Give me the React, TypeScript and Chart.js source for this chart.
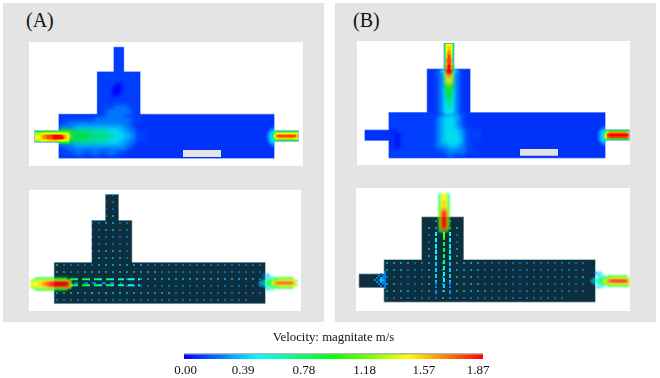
import React, { useEffect, useRef } from "react";
import { Chart, registerables } from "chart.js";
Chart.register(...registerables);

// ---------- data: velocity levels, hex digit d = d/15 of the maximum, "." = no reading ----------
const V_MAX = 1.87;
const TICK_LABELS = ["0.00", "0.39", "0.78", "1.18", "1.57", "1.87"];
const TICK_VALUES = [0.01, 0.37, 0.75, 1.13, 1.5, 1.84];

const A_FIELD = [
  ".............1111", ".............1111", ".............1111", ".............1111", ".............1111", ".............1111",
  ".........111111111111", ".........111111111111", ".........111111111111", ".........111110011111", ".........111100011111",
  ".........111100011111", ".........111100111111", ".........111111111111", ".........111111111111", ".........111112221111", ".........111222222111",
  "11111111111122221111", "111111111222222222111", "1122222222222222211", "2222333333333333221",
  "8886666655554443322111", "bba7777666665544332111", "8886666655554443322111", "2222333333333333221",
  "1122222222222222211", "1111221122112211", "1111111111111111",
];
const A_INLET = ["77778888888888887", "aaabbbbbbbbbbbbba", "bbbcddeeeffffedcb", "bbbcddeeefffffdcb", "aaabbbbcccccbbbba", "66667777777777776"];
const A_FLARE = ["...1", "..12", "..23", ".234", "1234", "1244", "1234", ".234", "..23", "..12", "...1"];
const A_OUTLET = ["567777777777", "9bbbbbbbbbbb", "bdeeeeeeeeec", "9bccccccccbb", "567777777777"];

const B_FIELD = [
  ".", ".", ".", ".", ".", ".", ".", ".", ".", ".", ".", ".", ".", ".", ".", ".", ".",
  "11111111111112333211", "1111111111112344321", "1111111111112344321", "11111111111123443211",
  ".0111111111123444321111", "..011111111123444321111", "..011111111123444421111", "..0111111111233443211",
  "..0111111111222332211", "1.11111111111122222111", "1111111111111112111",
];
const B_CHIMNEY = ["6bbb6", "6bbb6", "6bcb6", "6bcb6", "5bdb5", "5cdc5", "5cec5", "5cec5", "5ded5", "5ded5", "5cec5", "6dfd6", "6dfd6"];
const B_JET = [
  "11234dffd43211", "11234cffc43211", "11223bddb32211", "11223bccb32211", "11223abba32211", "11223abba32211", "11223abba32211",
  "11223899832211", "11223799732211", "11223588532211", "11223588532211", "11223588532211", "11223577532211", "11223577532211",
  "11223466432211", "11223466432211", "11223456432211", "11223455432211", "11223445432211", "11223444432211", "11223444432211", "11223444432211",
];
const B_OUTLET = ["567777777777", "9cdddddddddc", "befffffffffe", "bdeeeeeeeeed", "567777777777"];

const C_DOTS = [
  ".......22", ".......22", ".......22", ".......33",
  ".....223322", ".....223322", ".....222222", ".....222222", ".....233332", ".....233332",
  "3222223333333222222222222222222", "3322333333333332222222222222223", "..........33333333333333333332",
  "..........22222222222222222222", "3333343434333333322222222222223", "2222222222222222222222222222",
];
const C_DASHES = ["7766..7766..6655..6655..555..444..4", ".", "..22...22..22...22..22...2", "7766..7766..6655..6655..555..444..4"];
const C_INLET = ["..6677777777777777..", "99aabbbbbbbbbbbbbbb9", "bbbbccddeeffffffffeb", "bbbbccddeeffffffffeb", "99aabbbbcccccccccccb", "..6677777777777777.."];
const C_OUTLET = ["....2.3.", "......3.4", ".....3.5.6778888887.", "...3.456799bbbbbbbbb9", "..3.4567abdeeeeeeeec", "...3.456799bbbbbbbbb9", ".....3.5.6778888877", "......3.4"];

const D_DOTS = [
  ".", ".", ".", ".",
  ".......3.3", "......33.33", "......22.22", "......22.22", "......33.33", "......33.33",
  "33332233333333222222222222222", "33322233333333222222222222222", "22222233333332222222222222223",
  "33222233333333222222222222222", "33332233333333322222222222222", "22222222332222222222222222",
];
const D_JET_TOP = ["5bbb5", "5bbb5", "5bbb5", "6bcb6", "6bcb6", "6bcb6", "7bcb7", "7bdb7", "8cec8", "9dfd9", "9dfd9", "9dfd9", "9dfd9", "9dfd9", "9dfd9", "9dfd9", "8ded8", "8ded8", "3777."];
const D_DASHES = [
  "4...a..4", "4...9..4", "....9...", "4...8..4", "4......4", "....8...", "4...8..4", "4......4", "....7...", "4...7..4", "4......4",
  "....6...", "4...6..4", "4......4", "....6...", "3...5..3", "3......3", "....5...", "3...5..3", "3......3", "....4...", "3...4..3",
  "3......3", "....4...", "3...4..3", "2......2", "....3...", "2...3..2", "........", "2...3..2", "2......2",
];
const D_INLET_SPRAY = ["......2", "....2.2", "...2.22", "..2.322", ".2.2332", "..2.322", "...2.22", "....2.2", "......2"];
const D_OUTLET = [".....2.3", "......3.4", ".......3.5.6778888887.", "....3.456799bbbbbbbbbb9", "...3.4567abdeffffffffc", "....3.456799bbbbbbbbbb9", ".......3.5.67788888877", "......3.4"];

// ---------- colours and layout ----------
const COLOR_STOPS: [number, number[]][] = [[0, [0, 0, 255]], [0.25, [0, 255, 255]], [0.5, [0, 255, 0]], [0.75, [255, 255, 0]], [1, [255, 0, 0]]];
function colorFor(v: number) {
  const t = Math.min(1, Math.max(0, v / V_MAX));
  for (let i = 1; i < COLOR_STOPS.length; i++) {
    const [t1, c1] = COLOR_STOPS[i];
    const [t0, c0] = COLOR_STOPS[i - 1];
    if (t <= t1) {
      const f = (t - t0) / (t1 - t0);
      return `rgb(${c0.map((c, k) => Math.round(c + (c1[k] - c) * f)).join(",")})`;
    }
  }
  return "rgb(255,0,0)";
}

type Layer = { rows: string[]; ox: number; oy: number; cell: number; side: number; blur: number; clip: boolean };
const PANELS = [
  {
    left: 29, top: 42, w: 274, h: 124, base: "rgb(0,50,250)", edge: "#7d9bff",
    shapes: [[30, 245, 72.5, 116], [68.5, 111, 30, 72.5], [85, 94.5, 5.5, 30], [6, 30, 89, 100], [245, 269, 89, 99]],
    bar: [154, 192, 108, 115],
    layers: [
      { rows: A_FIELD, ox: 30, oy: 4, cell: 4, side: 5, blur: 2, clip: true },
      { rows: A_INLET, ox: 6, oy: 89, cell: 2, side: 2.8, blur: 0.6, clip: true },
      { rows: A_FLARE, ox: 237, oy: 84, cell: 2, side: 2.8, blur: 0.9, clip: true },
      { rows: A_OUTLET, ox: 245, oy: 89, cell: 2, side: 2.8, blur: 0.6, clip: true },
    ] as Layer[],
  },
  {
    left: 357, top: 41, w: 273, h: 124, base: "rgb(0,50,250)", edge: "#7d9bff",
    shapes: [[32, 248, 71.7, 116.7], [70.3, 113, 28.3, 71.7], [87.3, 96.7, 2.7, 28.3], [8, 32, 89.3, 99.3], [248, 272, 89, 99]],
    bar: [163, 201, 108, 114.7],
    layers: [
      { rows: B_FIELD, ox: 32, oy: 4, cell: 4, side: 5, blur: 2, clip: true },
      { rows: B_JET, ox: 78, oy: 28, cell: 2, side: 2.6, blur: 0.9, clip: true },
      { rows: B_CHIMNEY, ox: 87, oy: 2, cell: 2, side: 2.8, blur: 0.6, clip: true },
      { rows: A_FLARE, ox: 240, oy: 84, cell: 2, side: 2.8, blur: 0.9, clip: true },
      { rows: B_OUTLET, ox: 248, oy: 89, cell: 2, side: 2.8, blur: 0.6, clip: true },
    ] as Layer[],
  },
  {
    left: 29, top: 190, w: 272, h: 121, base: "#0d2f3e", edge: "#93a9b3",
    shapes: [[25.5, 236, 72.7, 113.3], [63, 102.7, 30.7, 72.7], [76.7, 89.3, 4.7, 30.7]],
    layers: [
      { rows: C_DOTS, ox: 24.5, oy: 1.5, cell: 7, side: 1.7, blur: 0.5, clip: true },
      { rows: C_DASHES, ox: 41, oy: 88.3, cell: 2, side: 2, blur: 0.4, clip: true },
      { rows: C_INLET, ox: 2, oy: 88, cell: 2, side: 2.6, blur: 0.8, clip: false },
      { rows: C_OUTLET, ox: 226, oy: 84, cell: 2, side: 2.6, blur: 0.8, clip: false },
    ] as Layer[],
  },
  {
    left: 356, top: 188, w: 274, h: 123, base: "#0d2f3e", edge: "#93a9b3",
    shapes: [[28.3, 239, 72, 113.7], [66, 107.3, 29.3, 72], [3.3, 28.3, 86.3, 99.3]],
    layers: [
      { rows: D_DOTS, ox: 27.5, oy: 1.5, cell: 7, side: 1.7, blur: 0.5, clip: true },
      { rows: D_DASHES, ox: 79, oy: 44, cell: 2, side: 2, blur: 0.4, clip: true },
      { rows: D_INLET_SPRAY, ox: 16, oy: 83, cell: 2, side: 1.8, blur: 0.7, clip: false },
      { rows: D_JET_TOP, ox: 83, oy: 6, cell: 2, side: 2.6, blur: 0.8, clip: false },
      { rows: D_OUTLET, ox: 229, oy: 84, cell: 2, side: 2.6, blur: 0.8, clip: false },
    ] as Layer[],
  },
];

function toPoints(l: Layer) {
  const pts: { x: number; y: number; v: number }[] = [];
  l.rows.forEach((row, j) => {
    [...row].forEach((c, i) => {
      if (c === ".") return;
      pts.push({ x: l.ox + (i + 0.5) * l.cell, y: l.oy + (j + 0.5) * l.cell, v: (parseInt(c, 16) / 15) * V_MAX });
    });
  });
  return pts.sort((a, b) => a.v - b.v);
}

function rectPath(chart: any, shapes: number[][]) {
  const { x, y } = chart.scales;
  const ctx = chart.ctx;
  ctx.beginPath();
  shapes.forEach(([x0, x1, y0, y1]) => {
    const px = x.getPixelForValue(x0);
    const py = y.getPixelForValue(y0);
    ctx.rect(px, py, x.getPixelForValue(x1) - px, y.getPixelForValue(y1) - py);
  });
}

const fieldPlugin = {
  id: "fieldPanel",
  beforeDatasetsDraw(chart: any, _a: any, o: any) {
    const ctx = chart.ctx;
    ctx.save();
    rectPath(chart, o.shapes);
    ctx.strokeStyle = o.edge;
    ctx.lineWidth = 1.4;
    ctx.stroke();
    ctx.fillStyle = o.base;
    ctx.fill();
    ctx.restore();
  },
  beforeDatasetDraw(chart: any, args: any, o: any) {
    const ctx = chart.ctx;
    const l = o.layers[args.index];
    ctx.save();
    if (l.clip) {
      rectPath(chart, o.shapes);
      ctx.clip();
    }
    ctx.filter = `blur(${l.blur}px)`;
  },
  afterDatasetDraw(chart: any) {
    chart.ctx.restore();
  },
  afterDatasetsDraw(chart: any, _a: any, o: any) {
    if (!o.bar) return;
    const ctx = chart.ctx;
    ctx.save();
    rectPath(chart, [o.bar]);
    ctx.fillStyle = "#e4e4e4";
    ctx.fill();
    ctx.restore();
  },
};

function FieldPanel({ p }: { p: (typeof PANELS)[number] }) {
  const ref = useRef<HTMLCanvasElement>(null);
  useEffect(() => {
    const chart = new Chart(ref.current as HTMLCanvasElement, {
      type: "scatter",
      data: {
        datasets: p.layers.map((l, i) => ({
          data: toPoints(l),
          order: p.layers.length - i,
          pointStyle: "rect",
          pointRadius: l.side / Math.SQRT2,
          pointBorderWidth: 0,
          pointBackgroundColor: (c: any) => colorFor(c.raw?.v ?? 0),
        })),
      },
      options: {
        animation: false,
        responsive: false,
        events: [],
        layout: { padding: 0, autoPadding: false },
        scales: {
          x: { type: "linear", display: false, min: 0, max: p.w },
          y: { type: "linear", display: false, min: 0, max: p.h, reverse: true },
        },
        plugins: {
          legend: { display: false },
          tooltip: { enabled: false },
          fieldPanel: { shapes: p.shapes, base: p.base, edge: p.edge, bar: (p as any).bar, layers: p.layers },
        },
      } as any,
      plugins: [fieldPlugin],
    });
    return () => chart.destroy();
  }, [p]);
  return (
    <canvas
      ref={ref}
      width={p.w}
      height={p.h}
      style={{ position: "absolute", left: p.left, top: p.top, width: p.w, height: p.h, background: "#fff", filter: "blur(0.45px)" }}
    />
  );
}

function ColorBar() {
  const ref = useRef<HTMLCanvasElement>(null);
  useEffect(() => {
    const chart = new Chart(ref.current as HTMLCanvasElement, {
      type: "bar",
      data: {
        labels: ["velocity"],
        datasets: [
          {
            data: [[0, V_MAX]],
            barPercentage: 1,
            categoryPercentage: 1,
            backgroundColor: (c: any) => {
              const a = c.chart.chartArea;
              if (!a) return "#00f";
              const g = c.chart.ctx.createLinearGradient(a.left, 0, a.right, 0);
              COLOR_STOPS.forEach(([t]) => g.addColorStop(t, colorFor(t * V_MAX)));
              return g;
            },
          },
        ],
      },
      options: {
        indexAxis: "y",
        animation: false,
        responsive: false,
        events: [],
        layout: { padding: { left: 24, right: 17, top: 0, bottom: 0 } },
        scales: {
          x: {
            type: "linear",
            min: 0,
            max: V_MAX,
            grid: { display: false, drawTicks: false },
            border: { display: false },
            afterFit: (axis: any) => {
              axis.height = 19;
            },
            afterBuildTicks: (axis: any) => {
              axis.ticks = TICK_VALUES.map((value) => ({ value }));
            },
            ticks: {
              autoSkip: false,
              maxRotation: 0,
              padding: 4,
              color: "#111",
              font: { family: "'Liberation Serif'", size: 13 },
              callback: (_v: any, i: number) => TICK_LABELS[i],
            },
          },
          y: { display: false },
        },
        plugins: {
          legend: { display: false },
          tooltip: { enabled: false },
          title: {
            display: true,
            text: "Velocity: magnitate m/s",
            color: "#111",
            font: { family: "'Liberation Serif'", size: 12.8, weight: "normal" },
            padding: { top: 4, bottom: 9 },
          },
        },
      } as any,
      plugins: [
        {
          id: "barTop",
          afterDatasetsDraw(c: any) {
            const { ctx, chartArea: a } = c;
            ctx.save();
            ctx.fillStyle = "#8a8a8a";
            ctx.fillRect(a.left, a.top - 1, a.right - a.left, 1);
            ctx.restore();
          },
        },
      ],
    });
    return () => chart.destroy();
  }, []);
  return <canvas ref={ref} width={340} height={52} style={{ position: "absolute", left: 160, top: 326, width: 340, height: 52 }} />;
}

const labelStyle: React.CSSProperties = {
  position: "absolute",
  top: 8,
  fontFamily: "'Liberation Serif', serif",
  fontSize: 20,
  lineHeight: "24px",
  color: "#111",
};

export default function App() {
  return (
    <div style={{ position: "absolute", left: 0, top: 0, width: 660, height: 378, background: "#fff", overflow: "hidden" }}>
      <div style={{ position: "absolute", left: 3, top: 3, width: 321, height: 319, background: "#e4e4e4" }} />
      <div style={{ position: "absolute", left: 335, top: 3, width: 321, height: 319, background: "#e4e4e4" }} />
      <div style={{ ...labelStyle, left: 26 }}>(A)</div>
      <div style={{ ...labelStyle, left: 353 }}>(B)</div>
      {PANELS.map((p, i) => (
        <FieldPanel key={i} p={p} />
      ))}
      <ColorBar />
    </div>
  );
}
